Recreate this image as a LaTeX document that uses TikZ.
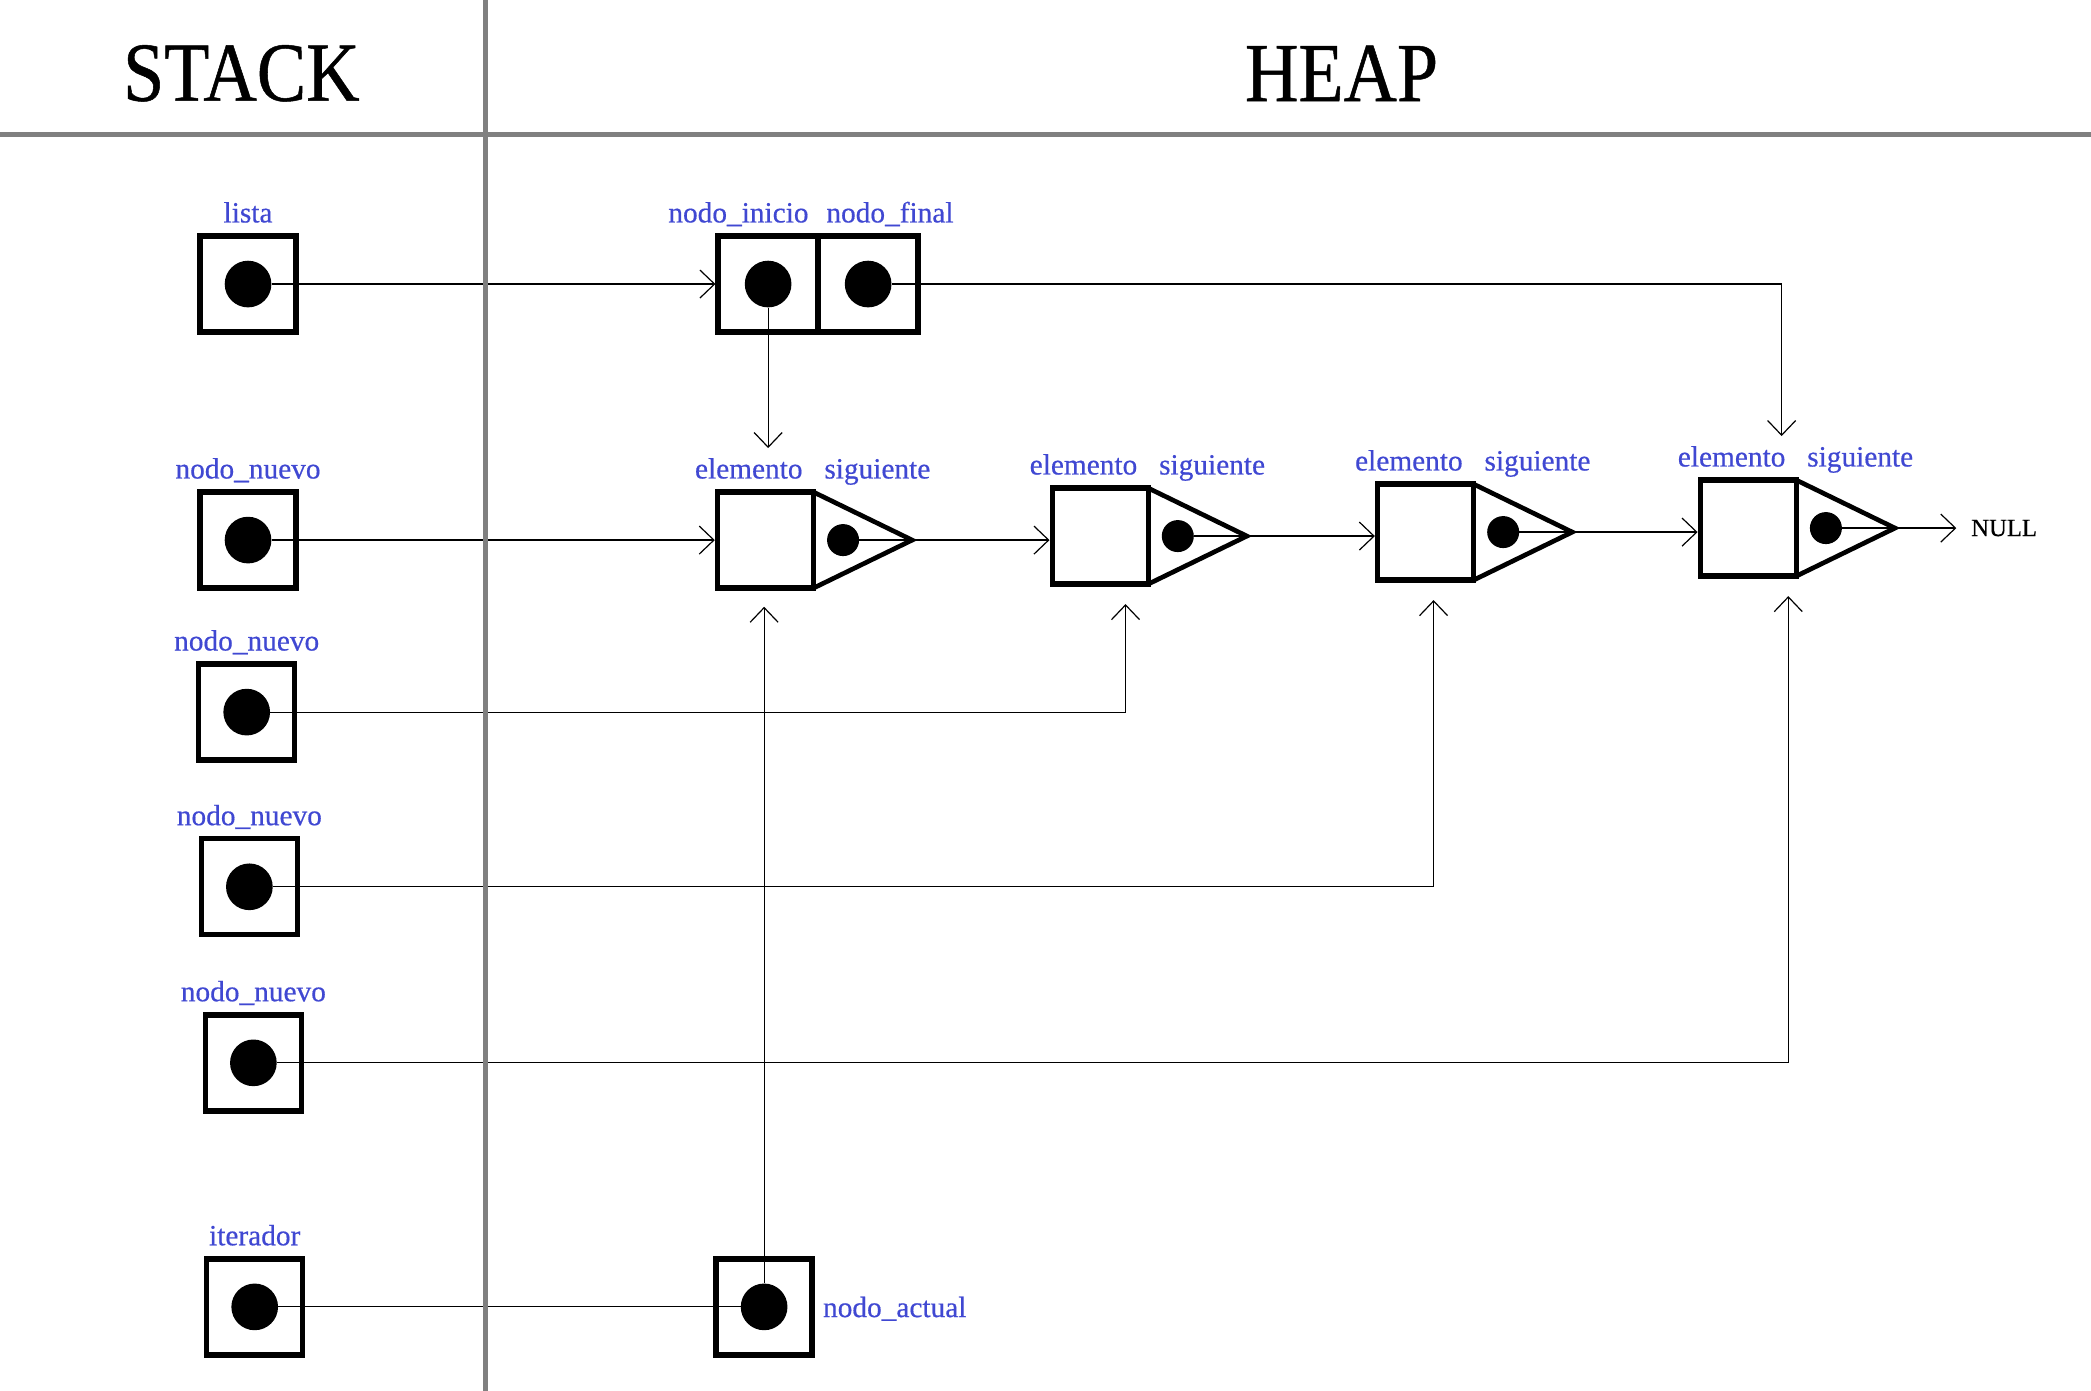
\documentclass[tikz,border=0pt]{standalone}
\usepackage{fontspec}
\setmainfont{Liberation Serif}
\newfontfamily\headfont[FakeStretch=0.88, FakeBold=0.6]{Liberation Serif}
\newfontfamily\labelfont[FakeBold=0.5]{Liberation Serif}
\usetikzlibrary{arrows.meta, positioning}
\definecolor{labelblue}{RGB}{64,72,210}
\definecolor{divgray}{RGB}{128,128,128}

\begin{document}
\begin{tikzpicture}[
    x=1pt, y=-1pt,
    ptr/.style={rectangle, draw, line width=4pt, minimum size=72pt, inner sep=0pt, outer sep=0pt},
    cell/.style={ptr, minimum width=75pt},
    ptrdot/.style={circle, fill, minimum size=35pt, inner sep=0pt},
    nextdot/.style={circle, fill, minimum size=24pt, inner sep=0pt},
    lbl/.style={text=labelblue, font=\labelfont\fontsize{22}{26}\selectfont, inner sep=0pt, text depth=0pt},
    heading/.style={font=\headfont\fontsize{63}{70}\selectfont, inner sep=0pt},
    wire/.style={line width=0.9pt},
    arrow/.style={wire, -{Straight Barb[length=11pt, width=21pt]}},
    divider/.style={draw=divgray, line width=3.5pt}
]
    \useasboundingbox (0,0) rectangle (1568,1043);

    % Headings
    \node[heading] (stack) at (181,55) {STACK};
    \node[heading] (heap) at (1006,55) {HEAP};

    % Stack variables
    \node[ptr] (s_lista) at (186,213) {};
    \node[ptr] (s_nuevo1) at (186,405) {};
    \node[ptr] (s_nuevo2) at (185,534) {};
    \node[ptr] (s_nuevo3) at (187,665) {};
    \node[ptr] (s_nuevo4) at (190,797) {};
    \node[ptr] (s_iter) at (191,980) {};

    \node[ptrdot] (d_lista) at (s_lista) {};
    \node[ptrdot] (d_nuevo1) at (s_nuevo1) {};
    \node[ptrdot] (d_nuevo2) at (s_nuevo2) {};
    \node[ptrdot] (d_nuevo3) at (s_nuevo3) {};
    \node[ptrdot] (d_nuevo4) at (s_nuevo4) {};
    \node[ptrdot] (d_iter) at (s_iter) {};

    \node[lbl, above=10pt of s_lista] (l_lista) {lista};
    \node[lbl, above=10pt of s_nuevo1] (l_nuevo1) {nodo\_nuevo};
    \node[lbl, above=10pt of s_nuevo2] (l_nuevo2) {nodo\_nuevo};
    \node[lbl, above=10pt of s_nuevo3] (l_nuevo3) {nodo\_nuevo};
    \node[lbl, above=10pt of s_nuevo4] (l_nuevo4) {nodo\_nuevo};
    \node[lbl, above=10pt of s_iter] (l_iter) {iterador};

    % List header
    \node[cell] (c_inicio) at (576,213) {};
    \node[cell, right=0pt of c_inicio] (c_final) {};
    \node[ptrdot] (d_inicio) at (c_inicio) {};
    \node[ptrdot] (d_final) at (c_final) {};
    \node[lbl, above left=10pt and 7pt of c_inicio.north east] (l_inicio) {nodo\_inicio};
    \node[lbl, above right=10pt and 6pt of c_inicio.north east] (l_final) {nodo\_final};

    % List nodes
    \node[ptr] (e1) at (574,405) {};
    \node[ptr] (e2) at (825,402) {};
    \node[ptr] (e3) at (1069,399) {};
    \node[ptr] (e4) at (1311,396) {};

    \coordinate[right=74pt of e1.east] (t1);
    \coordinate[right=74pt of e2.east] (t2);
    \coordinate[right=74pt of e3.east] (t3);
    \coordinate[right=74pt of e4.east] (t4);

    \draw[line width=3.5pt] (e1.north east) -- (t1) -- (e1.south east);
    \draw[line width=3.5pt] (e2.north east) -- (t2) -- (e2.south east);
    \draw[line width=3.5pt] (e3.north east) -- (t3) -- (e3.south east);
    \draw[line width=3.5pt] (e4.north east) -- (t4) -- (e4.south east);

    \node[nextdot, right=10pt of e1.east] (sd1) {};
    \node[nextdot, right=10pt of e2.east] (sd2) {};
    \node[nextdot, right=10pt of e3.east] (sd3) {};
    \node[nextdot, right=10pt of e4.east] (sd4) {};

    \node[lbl, above left=10pt and 8pt of e1.north east] (l_elem1) {elemento};
    \node[lbl, above right=10pt and 8pt of e1.north east] (l_sig1) {siguiente};
    \node[lbl, above left=10pt and 8pt of e2.north east] (l_elem2) {elemento};
    \node[lbl, above right=10pt and 8pt of e2.north east] (l_sig2) {siguiente};
    \node[lbl, above left=10pt and 8pt of e3.north east] (l_elem3) {elemento};
    \node[lbl, above right=10pt and 8pt of e3.north east] (l_sig3) {siguiente};
    \node[lbl, above left=10pt and 8pt of e4.north east] (l_elem4) {elemento};
    \node[lbl, above right=10pt and 8pt of e4.north east] (l_sig4) {siguiente};

    \node[right=57pt of t4, inner sep=0pt, font=\labelfont\fontsize{18.5}{22}\selectfont] (null) {NULL};

    % Iterator target
    \node[ptr] (a_box) at (573,980) {};
    \node[ptrdot] (d_actual) at (a_box) {};
    \node[lbl, right=8pt of a_box] (l_actual) {nodo\_actual};

    % Arrows
    \draw[arrow, shorten >=2pt] (d_lista) -- (c_inicio.west);
    \draw[arrow, shorten >=33pt] (d_inicio) -- (d_inicio |- e1.north);
    \draw[arrow, shorten >=33pt] (d_final) -| ([xshift=25pt]e4.north);
    \draw[arrow, shorten >=2pt] (d_nuevo1) -- (e1.west);
    \draw[arrow, shorten >=2pt] (sd1) -- (sd1 -| e2.west);
    \draw[arrow, shorten >=2pt] (sd2) -- (sd2 -| e3.west);
    \draw[arrow, shorten >=2pt] (sd3) -- (sd3 -| e4.west);
    \draw[arrow, shorten >=11pt] (sd4) -- (null);
    \draw[arrow, shorten >=15pt] (d_nuevo2) -| ([xshift=19pt]e2.south);
    \draw[arrow, shorten >=15pt] (d_nuevo3) -| ([xshift=6pt]e3.south);
    \draw[arrow, shorten >=15pt] (d_nuevo4) -| ([xshift=30pt]e4.south);
    \draw[wire] (d_iter) -- (d_actual);
    \draw[arrow, shorten >=14pt] (d_actual) -- (d_actual |- e1.south);

    % Stack / heap division
    \draw[divider] (0,101) -- (1568,101);
    \draw[divider] (364,0) -- (364,1043);
\end{tikzpicture}
\end{document}
